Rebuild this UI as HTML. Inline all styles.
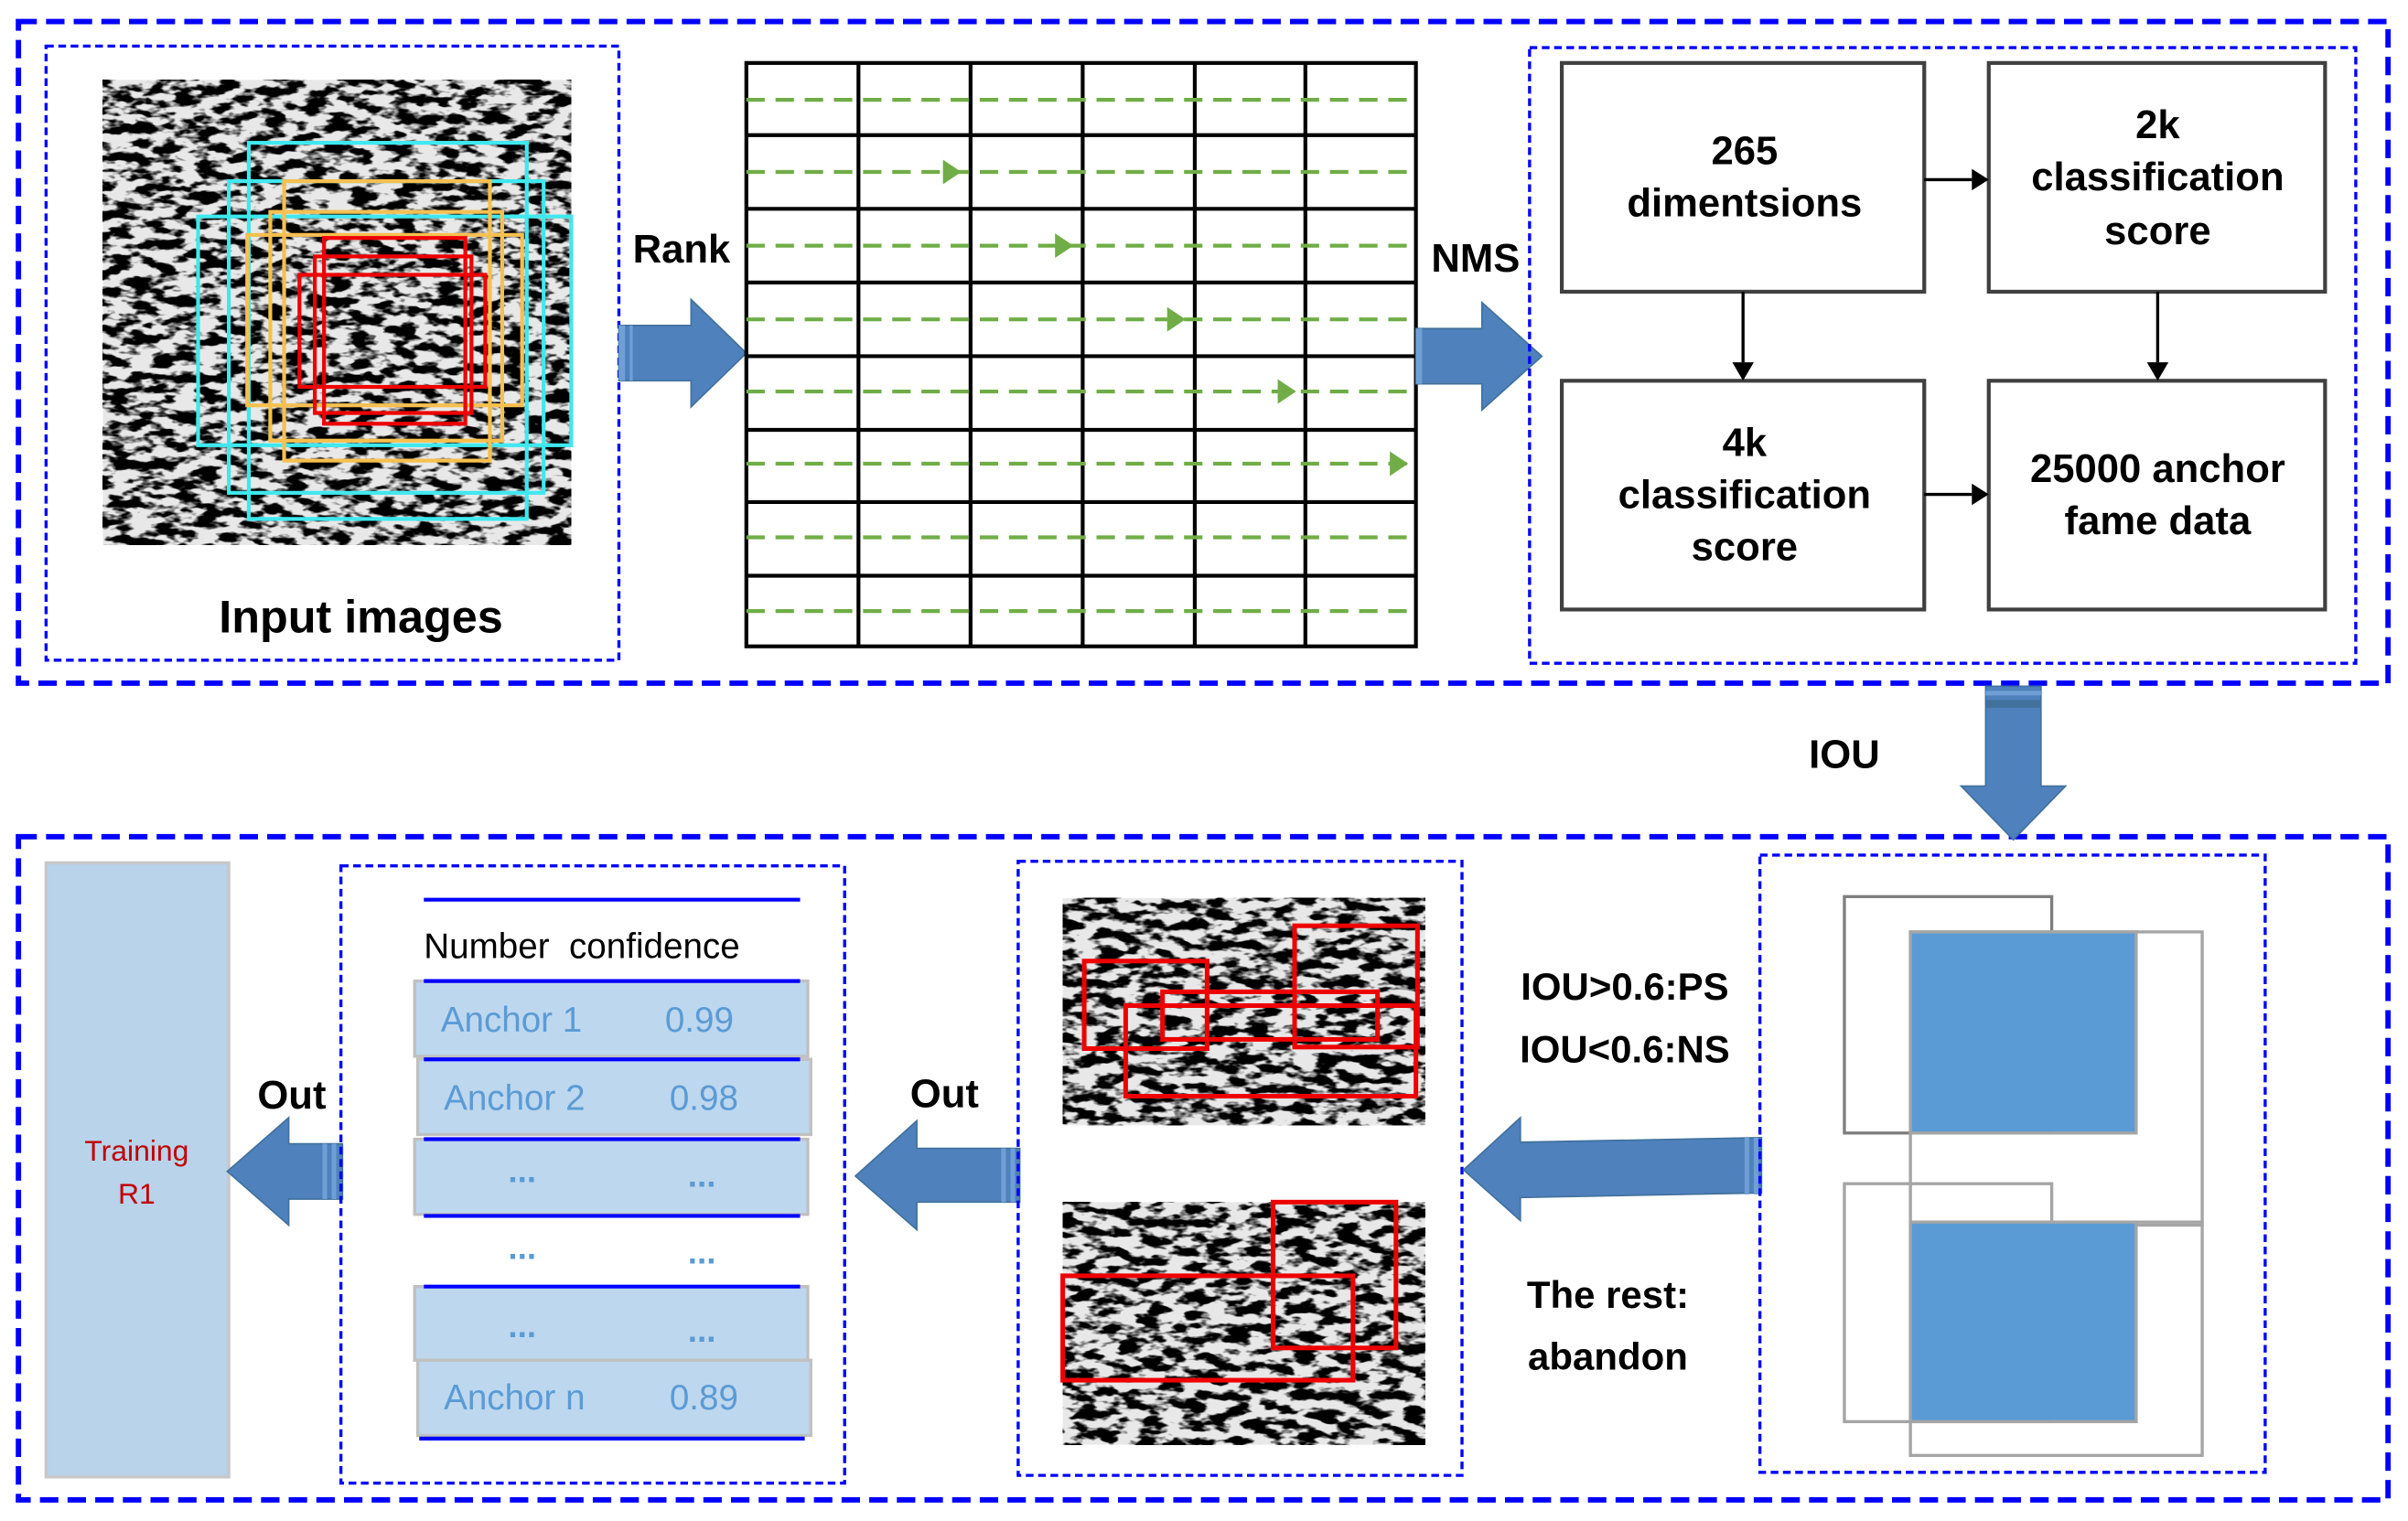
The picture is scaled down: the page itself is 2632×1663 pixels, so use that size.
<!DOCTYPE html>
<html><head><meta charset="utf-8"><style>
html,body{margin:0;padding:0;background:#fff;}
svg{display:block;}
text{font-family:"Liberation Sans",sans-serif;}
</style></head><body>
<svg width="2632" height="1663" viewBox="0 0 1568 990.7" xmlns="http://www.w3.org/2000/svg">
<defs>
<filter id="mtn" x="0" y="0" width="1" height="1" filterUnits="objectBoundingBox">
<feTurbulence type="fractalNoise" baseFrequency="0.07 0.16" numOctaves="3" seed="7"/>
<feColorMatrix type="matrix" values="0 0 0 0 0  0 0 0 0 0  0 0 0 0 0  -7 0 0 0 3.9"/>
</filter>
</defs>
<rect width="1568" height="990.7" fill="#fff"/>

<rect x="12" y="14" width="1543" height="431" fill="none" stroke="#0000ff" stroke-width="3.5" stroke-dasharray="12 6"/>
<rect x="12" y="545" width="1543" height="432" fill="none" stroke="#0000ff" stroke-width="3.5" stroke-dasharray="12 6"/>

<rect x="30" y="30" width="373" height="400" fill="none" stroke="#0000ff" stroke-width="2" stroke-dasharray="5 3"/>
<rect x="67" y="52" width="305" height="303" fill="#e8e8e8"/>
<rect x="67" y="52" width="305" height="303" fill="#000" filter="url(#mtn)"/>
<g fill="none" stroke-width="2.5">
<rect x="162" y="93" width="181" height="245" stroke="#3fe8ee"/>
<rect x="149" y="118" width="205" height="203" stroke="#3fe8ee"/>
<rect x="129" y="141" width="243" height="149" stroke="#3fe8ee"/>
<rect x="185" y="118" width="134" height="182" stroke="#f5c050"/>
<rect x="176" y="138" width="151" height="149" stroke="#f5c050"/>
<rect x="161" y="153" width="179" height="111" stroke="#f5c050"/>
<rect x="211" y="155" width="92" height="121" stroke="#ee0000"/>
<rect x="205" y="167" width="102" height="102" stroke="#ee0000"/>
<rect x="195" y="179" width="121" height="73" stroke="#ee0000"/>
</g>
<text x="235" y="412" font-size="30" font-weight="bold" text-anchor="middle">Input images</text>

<path d="M403,212 H450 V195 L486,230 L450,265 V248 H403 Z" fill="#4f81bd" stroke="#41719c" stroke-width="1"/>
<rect x="403" y="212" width="4" height="36" fill="#6f9fd5"/>
<rect x="410" y="212" width="2" height="36" fill="#6f9fd5"/>
<text x="412" y="171" font-size="26" font-weight="bold">Rank</text>

<g stroke="#000" stroke-width="2.5" fill="none">
<rect x="486" y="41" width="436" height="380"/>
<path d="M559,41V421M632,41V421M705,41V421M778,41V421M850,41V421"/>
<path d="M486,88H922M486,136H922M486,184H922M486,232H922M486,280H922M486,327H922M486,375H922"/>
</g>
<g stroke="#70ad47" stroke-width="2.5" stroke-dasharray="12 7" fill="none">
<path d="M486,65H922M486,112H922M486,160H922M486,208H922M486,255H922M486,302H922M486,350H922M486,398H922"/>
</g>
<g fill="#70ad47">
<path d="M614,104 L626,112 L614,120Z"/>
<path d="M687,152 L699,160 L687,168Z"/>
<path d="M760,200 L772,208 L760,216Z"/>
<path d="M832,247 L844,255 L832,263Z"/>
<path d="M905,294 L917,302 L905,310Z"/>
</g>

<path d="M922,214 H965 V197 L1004,232 L965,267 V250 H922 Z" fill="#4f81bd" stroke="#41719c" stroke-width="1"/>
<rect x="922" y="214" width="4" height="36" fill="#6f9fd5"/>
<text x="932" y="177" font-size="26" font-weight="bold">NMS</text>

<rect x="996" y="31" width="538" height="401" fill="none" stroke="#0000ff" stroke-width="2" stroke-dasharray="5 3"/>
<g fill="#fff" stroke="#404040" stroke-width="2.5">
<rect x="1017" y="41" width="236" height="149"/>
<rect x="1295" y="41" width="219" height="149"/>
<rect x="1017" y="248" width="236" height="149"/>
<rect x="1295" y="248" width="219" height="149"/>
</g>
<g stroke="#000" stroke-width="2" fill="#000">
<path d="M1253,117H1284" fill="none"/><path d="M1284,110 L1295,117 L1284,124Z" stroke="none"/>
<path d="M1253,322H1284" fill="none"/><path d="M1284,315 L1295,322 L1284,329Z" stroke="none"/>
<path d="M1135,190V236" fill="none"/><path d="M1128,236 L1135,248 L1142,236Z" stroke="none"/>
<path d="M1405,190V236" fill="none"/><path d="M1398,236 L1405,248 L1412,236Z" stroke="none"/>
</g>
<g font-size="26" font-weight="bold" text-anchor="middle">
<text x="1136" y="107">265</text>
<text x="1136" y="141">dimentsions</text>
<text x="1405" y="90">2k</text>
<text x="1405" y="124">classification</text>
<text x="1405" y="159">score</text>
<text x="1136" y="297">4k</text>
<text x="1136" y="331">classification</text>
<text x="1136" y="365">score</text>
<text x="1405" y="314">25000 anchor</text>
<text x="1405" y="348">fame data</text>
</g>

<path d="M1293,447 H1329 V512 H1345 L1311,547 L1277,512 H1293 Z" fill="#4f81bd" stroke="#41719c" stroke-width="1"/>
<rect x="1293" y="450" width="36" height="3" fill="#6f9fd5"/>
<rect x="1293" y="456" width="36" height="5" fill="#41719c"/>
<text x="1201" y="500" font-size="26" font-weight="bold" text-anchor="middle">IOU</text>

<rect x="30" y="562" width="119" height="400" fill="#b8d3ea" stroke="#c8c8c8" stroke-width="2"/>
<text x="89" y="756" font-size="19" fill="#c00000" text-anchor="middle">Training</text>
<text x="89" y="784" font-size="19" fill="#c00000" text-anchor="middle">R1</text>

<path d="M223,745 H188 V728 L148,763 L188,798 V781 H223 Z" fill="#4f81bd" stroke="#41719c" stroke-width="1"/>
<rect x="210" y="745" width="3" height="36" fill="#6f9fd5"/>
<rect x="216" y="745" width="3" height="36" fill="#6f9fd5"/>
<text x="190" y="722" font-size="26" font-weight="bold" text-anchor="middle">Out</text>

<rect x="222" y="564" width="328" height="402" fill="none" stroke="#0000ff" stroke-width="2" stroke-dasharray="5 3"/>
<path d="M276,586H521" stroke="#0000ff" stroke-width="2.5"/>
<text x="276" y="624" font-size="23" xml:space="preserve">Number  confidence</text>
<g fill="#bdd7ee" stroke="#c0c0c0" stroke-width="2">
<rect x="270" y="639" width="256" height="49"/>
<rect x="272" y="690" width="256" height="49"/>
<rect x="270" y="742" width="256" height="49"/>
<rect x="270" y="838" width="256" height="48"/>
<rect x="272" y="886" width="256" height="49"/>
</g>
<g stroke="#0000ff" stroke-width="2.5">
<path d="M276,639H521M276,690H521M276,742H521M276,792H521M276,838H521M273,937H524"/>
</g>
<g font-size="23" fill="#5b9bd5">
<text x="287" y="672">Anchor 1</text><text x="433" y="672">0.99</text>
<text x="289" y="723">Anchor 2</text><text x="436" y="723">0.98</text>
<text x="289" y="918">Anchor n</text><text x="436" y="918">0.89</text>
</g>
<g font-size="22" font-weight="bold" fill="#5b9bd5" text-anchor="middle">
<text x="340" y="770">...</text><text x="457" y="773">...</text>
<text x="340" y="820">...</text><text x="457" y="823">...</text>
<text x="340" y="871">...</text><text x="457" y="874">...</text>
</g>

<path d="M664,748 H597 V730 L557,766 L597,801 V783 H664 Z" fill="#4f81bd" stroke="#41719c" stroke-width="1"/>
<rect x="652" y="748" width="3" height="35" fill="#6f9fd5"/>
<rect x="658" y="748" width="3" height="35" fill="#6f9fd5"/>
<text x="615" y="721" font-size="26" font-weight="bold" text-anchor="middle">Out</text>

<rect x="663" y="561" width="289" height="400" fill="none" stroke="#0000ff" stroke-width="2" stroke-dasharray="5 3"/>
<rect x="692" y="585" width="236" height="148" fill="#e8e8e8"/>
<rect x="692" y="585" width="236" height="148" fill="#000" filter="url(#mtn)"/>
<rect x="692" y="783" width="236" height="158" fill="#e8e8e8"/>
<rect x="692" y="783" width="236" height="158" fill="#000" filter="url(#mtn)"/>
<g fill="none" stroke="#ee0000" stroke-width="3">
<rect x="706" y="626" width="80" height="57"/>
<rect x="733" y="655" width="189" height="59"/>
<rect x="757" y="646" width="140" height="31"/>
<rect x="843" y="603" width="80" height="79"/>
<rect x="829" y="783" width="80" height="95"/>
<rect x="692" y="831" width="189" height="68"/>
</g>

<path d="M1147,741 L990,744 V728 L953,762 L990,795 V780 L1147,777 Z" fill="#4f81bd" stroke="#41719c" stroke-width="1"/>
<rect x="1136" y="741" width="3" height="37" fill="#6f9fd5"/>
<rect x="1142" y="741" width="3" height="37" fill="#6f9fd5"/>
<g font-size="25" font-weight="bold" text-anchor="middle">
<text x="1058" y="651">IOU&gt;0.6:PS</text>
<text x="1058" y="692">IOU&lt;0.6:NS</text>
<text x="1047" y="852">The rest:</text>
<text x="1047" y="892">abandon</text>
</g>

<rect x="1146" y="557" width="329" height="402" fill="none" stroke="#0000ff" stroke-width="2" stroke-dasharray="5 3"/>
<rect x="1201" y="584" width="135" height="154" fill="none" stroke="#7f7f7f" stroke-width="2"/>
<rect x="1244" y="607" width="190" height="191" fill="none" stroke="#a5a5a5" stroke-width="2"/>
<rect x="1244" y="607" width="147" height="131" fill="#5b9bd5" stroke="#a5a5a5" stroke-width="2"/>
<rect x="1201" y="771" width="135" height="155" fill="none" stroke="#a5a5a5" stroke-width="2"/>
<rect x="1244" y="796" width="190" height="152" fill="none" stroke="#a5a5a5" stroke-width="2"/>
<rect x="1244" y="796" width="147" height="130" fill="#5b9bd5" stroke="#a5a5a5" stroke-width="2"/>
</svg>
</body></html>
